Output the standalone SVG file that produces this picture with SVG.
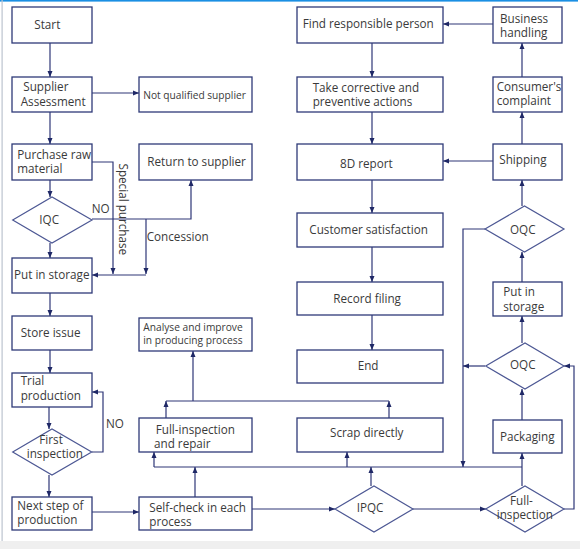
<svg xmlns="http://www.w3.org/2000/svg" width="580" height="549" viewBox="0 0 580 549">
<style>
.bx{fill:#fff;stroke:#2e3a78;stroke-width:1.3}
.dm{fill:#fff;stroke:#4d5894;stroke-width:1.2}
.t{font-family:"Open Sans","Noto Sans",sans-serif;font-size:11.7px;fill:#3a3a3a}
.s{font-family:"Open Sans","Noto Sans",sans-serif;font-size:10.2px;fill:#3a3a3a}
.c path{fill:none;stroke:#2e3677;stroke-width:1.2}
</style>
<defs>
<marker id="a" markerUnits="userSpaceOnUse" markerWidth="7" markerHeight="6" refX="6" refY="3" orient="auto">
<path d="M0,0.5 L6,3 L0,5.5 z" fill="#1f2866"/>
</marker>
</defs>
<rect x="0" y="0" width="580" height="549" fill="#fff"/>
<rect x="0" y="0" width="578" height="1.6" fill="#1a8fe3"/>
<rect x="1.5" y="0" width="1.2" height="541" fill="#bcc3cf"/>
<rect x="0" y="541" width="580" height="8" fill="#efefef"/>

<g class="c">
<path d="M50,43 V77" marker-end="url(#a)"/>
<path d="M92,93 H139" marker-end="url(#a)"/>
<path d="M50,112 V144" marker-end="url(#a)"/>
<path d="M50,180 V197" marker-end="url(#a)"/>
<path d="M50,243 V258" marker-end="url(#a)"/>
<path d="M92,219 H191 V180" marker-end="url(#a)"/>
<path d="M146,219 V274" marker-end="url(#a)"/>
<path d="M92,162 H113 V274" marker-end="url(#a)"/>
<path d="M146,275 H92" marker-end="url(#a)"/>
<path d="M50,293 V316" marker-end="url(#a)"/>
<path d="M50,350 V373" marker-end="url(#a)"/>
<path d="M49,407 V429" marker-end="url(#a)"/>
<path d="M92,452 H103 V392 H92" marker-end="url(#a)"/>
<path d="M49,475 V497" marker-end="url(#a)"/>
<path d="M92,512 H139" marker-end="url(#a)"/>
<path d="M195,497 V467" marker-end="url(#a)"/>
<path d="M154,467 H522"/>
<path d="M154,467 V452" marker-end="url(#a)"/>
<path d="M347,467 V452" marker-end="url(#a)"/>
<path d="M371,486 V467" marker-end="url(#a)"/>
<path d="M485,229 H463 V467" marker-end="url(#a)"/>
<path d="M485,366 H463" marker-end="url(#a)"/>
<path d="M252,509 H335" marker-end="url(#a)"/>
<path d="M413,509 H486" marker-end="url(#a)"/>
<path d="M522,486 V453" marker-end="url(#a)"/>
<path d="M564,509 H574 V366 H564" marker-end="url(#a)"/>
<path d="M522,420 V389" marker-end="url(#a)"/>
<path d="M522,343 V316" marker-end="url(#a)"/>
<path d="M522,282 V252" marker-end="url(#a)"/>
<path d="M522,206 V180" marker-end="url(#a)"/>
<path d="M522,144 V112" marker-end="url(#a)"/>
<path d="M522,77 V43" marker-end="url(#a)"/>
<path d="M493,24 H443" marker-end="url(#a)"/>
<path d="M493,161 H443" marker-end="url(#a)"/>
<path d="M372,43 V77" marker-end="url(#a)"/>
<path d="M372,112 V144" marker-end="url(#a)"/>
<path d="M372,180 V213" marker-end="url(#a)"/>
<path d="M372,247 V282" marker-end="url(#a)"/>
<path d="M372,315 V350" marker-end="url(#a)"/>
<path d="M166,418 V401" marker-end="url(#a)"/>
<path d="M389,418 V401" marker-end="url(#a)"/>
<path d="M166,401 H389"/>
<path d="M193,401 V351" marker-end="url(#a)"/>
</g>

<g class="t">
<text x="91.7" y="213.3">NO</text>
<text x="146.7" y="240.7">Concession</text>
<text transform="translate(118.5,163.5) rotate(90)">Special purchase</text>
<text x="106" y="428.3">NO</text>
</g>

<g id="start"><rect class="bx" x="12" y="7" width="80" height="36"/><text class="t" x="34.3" y="28.7">Start</text></g>
<g id="supplier"><rect class="bx" x="12" y="77" width="80" height="35"/><text class="t" x="23.3" y="91"><tspan x="23.3">Supplier</tspan><tspan x="20.7" y="106">Assessment</tspan></text></g>
<g id="notqualified"><rect class="bx" x="139" y="77" width="113" height="35"/><text class="s" x="143.3" y="99">Not qualified supplier</text></g>
<g id="purchase"><rect class="bx" x="12" y="144" width="80" height="36"/><text class="t" x="17.3" y="158.8"><tspan x="17.3">Purchase raw</tspan><tspan x="17.3" y="173.1">material</tspan></text></g>
<g id="return"><rect class="bx" x="139" y="144" width="113" height="36"/><text class="t" x="147.3" y="166.3">Return to supplier</text></g>
<g id="iqc"><polygon class="dm" points="12.7,220 52,197 92,220 52,243"/><text class="t" x="39.3" y="224">IQC</text></g>
<g id="putstorage"><rect class="bx" x="12" y="258" width="80" height="35"/><text class="t" x="14" y="278.5">Put in storage</text></g>
<g id="storeissue"><rect class="bx" x="12" y="316" width="80" height="34"/><text class="t" x="20.7" y="336.7">Store issue</text></g>
<g id="trial"><rect class="bx" x="12" y="373" width="80" height="34"/><text class="t" x="20.7" y="385.3"><tspan x="20.7">Trial</tspan><tspan x="20.7" y="399.6">production</tspan></text></g>
<g id="firstinsp"><polygon class="dm" points="12.7,452 52,429 91.7,452 52,475"/><text class="t" x="39.3" y="444.1"><tspan x="39.3">First</tspan><tspan x="26.7" y="458.4">inspection</tspan></text></g>
<g id="nextstep"><rect class="bx" x="12" y="497" width="80" height="33"/><text class="t" x="17.3" y="509.5"><tspan x="17.3">Next step of</tspan><tspan x="17.3" y="523.8">production</tspan></text></g>
<g id="analyse"><rect class="bx" x="139" y="318" width="113" height="33"/><text class="s" x="143.3" y="331.2"><tspan x="143.3">Analyse and improve</tspan><tspan x="143.3" y="344.3">in producing process</tspan></text></g>
<g id="fullrepair"><rect class="bx" x="139" y="418" width="113" height="34"/><text class="t" x="155.7" y="433.9"><tspan x="155.7">Full-inspection</tspan><tspan x="154" y="448.2">and repair</tspan></text></g>
<g id="selfcheck"><rect class="bx" x="139" y="497" width="113" height="33"/><text class="t" x="149.3" y="511.8"><tspan x="149.3">Self-check in each</tspan><tspan x="149.3" y="526.1">process</tspan></text></g>
<g id="find"><rect class="bx" x="297" y="7" width="146" height="36"/><text class="t" x="302.7" y="28.3">Find responsible person</text></g>
<g id="take"><rect class="bx" x="297" y="77" width="146" height="35"/><text class="t" x="312.7" y="91.7"><tspan x="312.7">Take corrective and</tspan><tspan x="312.7" y="106">preventive actions</tspan></text></g>
<g id="report8d"><rect class="bx" x="297" y="144" width="146" height="36"/><text class="t" x="340" y="168.3">8D report</text></g>
<g id="custsat"><rect class="bx" x="297" y="213" width="146" height="34"/><text class="t" x="309.3" y="234.3">Customer satisfaction</text></g>
<g id="record"><rect class="bx" x="297" y="282" width="146" height="33"/><text class="t" x="333.3" y="303.3">Record filing</text></g>
<g id="end"><rect class="bx" x="297" y="350" width="146" height="33"/><text class="t" x="357.7" y="370">End</text></g>
<g id="scrap"><rect class="bx" x="297" y="418" width="146" height="34"/><text class="t" x="330" y="437.3">Scrap directly</text></g>
<g id="ipqc"><polygon class="dm" points="335,509 374,486 413,509 374,532"/><text class="t" x="356.7" y="511.7">IPQC</text></g>
<g id="business"><rect class="bx" x="493" y="7" width="69" height="36"/><text class="t" x="500" y="23.3"><tspan x="500">Business</tspan><tspan x="500" y="37.3">handling</tspan></text></g>
<g id="consumer"><rect class="bx" x="493" y="77" width="69" height="35"/><text class="t" x="496.7" y="91"><tspan x="496.7">Consumer's</tspan><tspan x="496.7" y="105.3">complaint</tspan></text></g>
<g id="shipping"><rect class="bx" x="493" y="144" width="69" height="36"/><text class="t" x="499.3" y="164.3">Shipping</text></g>
<g id="oqc1"><polygon class="dm" points="485,229 524.5,206 564,229 524.5,252"/><text class="t" x="510" y="234">OQC</text></g>
<g id="putstorage2"><rect class="bx" x="493" y="282" width="69" height="34"/><text class="t" x="503.3" y="296.3"><tspan x="503.3">Put in</tspan><tspan x="503.3" y="310.6">storage</tspan></text></g>
<g id="oqc2"><polygon class="dm" points="485.7,366 525,343 564,366 525,389"/><text class="t" x="510" y="369.3">OQC</text></g>
<g id="packaging"><rect class="bx" x="493" y="420" width="69" height="33"/><text class="t" x="500" y="440.7">Packaging</text></g>
<g id="fullinsp"><polygon class="dm" points="485.7,509 525,486 564,509 525,532"/><text class="t" x="510" y="504.6"><tspan x="510">Full-</tspan><tspan x="496.7" y="518.9">inspection</tspan></text></g>
</svg>
